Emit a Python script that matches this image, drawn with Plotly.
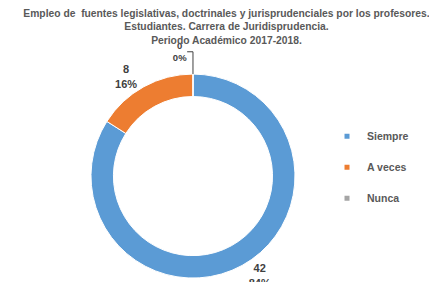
import plotly.graph_objects as go

categories = ["Siempre", "A veces", "Nunca"]
values = [42, 8, 0]
colors = ["#5B9BD5", "#ED7D31", "#A5A5A5"]

title = ("Empleo de  fuentes legislativas, doctrinales y jurisprudenciales por los profesores.<br>"
         "Estudiantes. Carrera de Juridisprudencia.<br>Periodo Académico 2017-2018.")

FONT = "Liberation Sans, Arial"

cx, cy = 0.4233, 0.404
hw, hh = 0.2334, 0.3617

fig = go.Figure()
fig.add_trace(go.Pie(
    labels=categories, values=values, sort=False, direction="clockwise", rotation=0,
    hole=0.78, marker=dict(colors=colors, line=dict(color="white", width=1)),
    texttemplate="<b>%{value}<br>%{percent:.0%}</b>",
    textposition="outside",
    textfont=dict(family=FONT, size=[11, 11, 9.5], color="#404040"),
    domain=dict(x=[cx - hw, cx + hw], y=[cy - hh, cy + hh]),
    showlegend=False, automargin=False,
))
for i, (name, col) in enumerate(zip(categories, colors)):
    fig.add_trace(go.Scatter(
        x=[None], y=[None], mode="markers", name="<b>" + name + "</b>",
        marker=dict(symbol="square", size=5, color=col),
        legendgroup=str(i), showlegend=True,
    ))
fig.update_xaxes(visible=False)
fig.update_yaxes(visible=False)
fig.update_layout(
    width=437, height=282, margin=dict(l=0, r=0, t=0, b=0, autoexpand=False),
    paper_bgcolor="white", plot_bgcolor="white",
    title=dict(text="<b>" + title + "</b>", x=0.5, y=0.968, xanchor="center", yanchor="top",
               font=dict(family=FONT, size=10.3, color="#595959")),
    legend=dict(x=0.73, y=0.435, xanchor="left", yanchor="middle",
                font=dict(family=FONT, size=10.5, color="#595959"),
                itemsizing="trace", tracegroupgap=12, itemwidth=30,
                bgcolor="rgba(0,0,0,0)"),
)
fig.write_html("out.html")
